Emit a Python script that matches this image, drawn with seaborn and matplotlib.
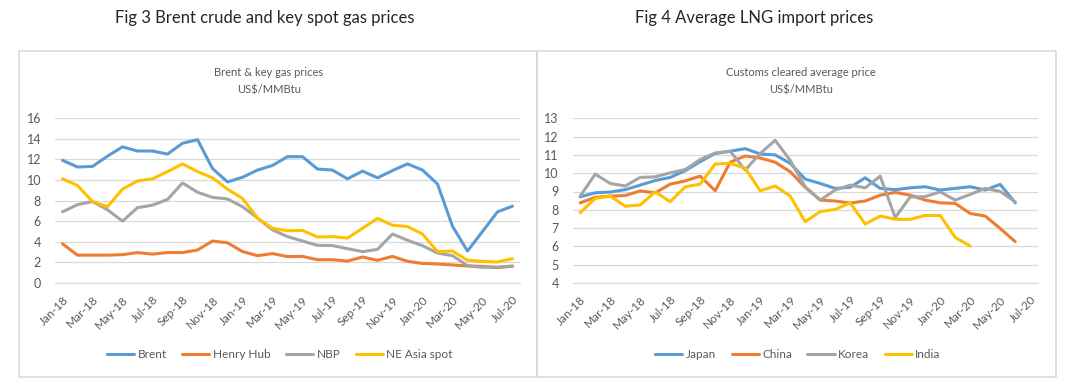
import seaborn as sns
import matplotlib.pyplot as plt
from matplotlib.patches import Rectangle
import pandas as pd
import numpy as np

sns.set_style("white")
plt.rcParams['font.family'] = ['Lato', 'DejaVu Sans']

# monthly labels Jan-18 .. Jul-20
months = list(pd.date_range("2018-01-01", periods=31, freq="MS").strftime("%b-%y"))

# Fig 3 - Brent & key gas prices (US$/MMBtu)
brent = [11.9, 11.25, 11.3, 12.3, 13.2, 12.8, 12.8, 12.5, 13.55, 13.9, 11.1, 9.8, 10.25, 10.95, 11.4,
         12.25, 12.25, 11.05, 10.95, 10.1, 10.85, 10.2, 10.9, 11.55, 10.95, 9.6, 5.5, 3.1, 5.0, 6.9, 7.45]
henry_hub = [3.8, 2.7, 2.7, 2.7, 2.75, 2.95, 2.8, 2.95, 2.95, 3.2, 4.07, 3.9, 3.05, 2.65, 2.85,
             2.56, 2.58, 2.26, 2.26, 2.13, 2.52, 2.2, 2.58, 2.1, 1.9, 1.84, 1.75, 1.65, 1.62, 1.49, 1.62]
nbp = [6.9, 7.6, 7.9, 7.1, 6.0, 7.3, 7.55, 8.1, 9.7, 8.8, 8.3, 8.15, 7.4, 6.3, 5.15,
       4.5, 4.07, 3.65, 3.63, 3.33, 3.04, 3.26, 4.75, 4.14, 3.62, 2.9, 2.65, 1.68, 1.52, 1.55, 1.65]
ne_asia = [10.1, 9.45, 7.9, 7.4, 9.1, 9.9, 10.1, 10.8, 11.55, 10.8, 10.2, 9.1, 8.2, 6.3, 5.3,
           5.07, 5.1, 4.46, 4.5, 4.36, 5.3, 6.27, 5.6, 5.47, 4.75, 3.04, 3.1, 2.2, 2.1, 2.04, 2.36]

# Fig 4 - customs cleared average LNG import price (US$/MMBtu)
japan = [8.71, 8.93, 8.97, 9.1, 9.35, 9.6, 9.77, 10.14, 10.63, 11.08, 11.2, 11.34, 11.05, 11.0, 10.54,
         9.68, 9.44, 9.17, 9.23, 9.75, 9.17, 9.1, 9.2, 9.26, 9.08, 9.17, 9.26, 9.08, 9.39, 8.38]
china = [8.38, 8.68, 8.75, 8.78, 9.03, 8.93, 9.4, 9.58, 9.84, 9.04, 10.6, 10.94, 10.83, 10.6, 10.08,
         9.23, 8.53, 8.48, 8.37, 8.48, 8.8, 8.95, 8.8, 8.53, 8.38, 8.35, 7.8, 7.66, 6.98, 6.26]
korea = [8.75, 9.95, 9.44, 9.3, 9.77, 9.8, 10.02, 10.2, 10.75, 11.1, 11.2, 10.17, 11.08, 11.8, 10.7,
         9.26, 8.53, 9.08, 9.35, 9.2, 9.84, 7.58, 8.7, 8.72, 8.98, 8.53, 8.84, 9.17, 9.0, 8.44]
india = [7.84, 8.62, 8.75, 8.2, 8.26, 8.98, 8.44, 9.26, 9.4, 10.5, 10.54, 10.27, 9.04, 9.3, 8.75,
         7.35, 7.9, 8.02, 8.38, 7.22, 7.66, 7.48, 7.48, 7.69, 7.69, 6.49, 6.02]

colors = ["#5B9BD5", "#ED7D31", "#A5A5A5", "#FFC000"]
TXT = "#595959"
GRID = "#D9D9D9"
W, H = 1074, 391


def long_frame(series):
    rows = []
    for name, vals in series.items():
        for i, v in enumerate(vals):
            rows.append({"idx": i, "value": v, "series": name})
    return pd.DataFrame(rows)


def box(x0, y0, x1, y1):
    # pixel box -> figure fraction [left, bottom, width, height]
    return [x0 / W, 1 - y1 / H, (x1 - x0) / W, (y1 - y0) / H]


fig = plt.figure(figsize=(W / 100, H / 100), dpi=100)

# chart frames
for x0, x1 in [(19, 537), (537, 1056)]:
    fig.patches.append(Rectangle((x0 / W, 1 - 377 / H), (x1 - x0) / W, (377 - 51) / H,
                                 transform=fig.transFigure, fill=False, edgecolor=GRID, lw=1.2))

fig.text(265 / W, 1 - 18 / H, "Fig 3 Brent crude and key spot gas prices", ha="center", va="center", fontsize=12)
fig.text(754 / W, 1 - 18 / H, "Fig 4 Average LNG import prices", ha="center", va="center", fontsize=12)

panels = [
    dict(pos=box(55, 118, 520, 283), data={"Brent": brent, "Henry Hub": henry_hub, "NBP": nbp, "NE Asia spot": ne_asia},
         ylim=(0, 16), yticks=np.arange(0, 17, 2), title="Brent & key gas prices\nUS$/MMBtu", cx=269, lx=280),
    dict(pos=box(572.7, 118.3, 1037.7, 283), data={"Japan": japan, "China": china, "Korea": korea, "India": india},
         ylim=(4, 13), yticks=np.arange(4, 14, 1), title="Customs cleared average price\nUS$/MMBtu", cx=801, lx=798),
]

for p in panels:
    ax = fig.add_axes(p["pos"])
    df = long_frame(p["data"])
    sns.lineplot(data=df, x="idx", y="value", hue="series", palette=colors, linewidth=2.2, ax=ax)
    ax.set_xlim(-0.5, 30.5)
    ax.set_ylim(*p["ylim"])
    ax.set_yticks(p["yticks"])
    ax.set_xticks(range(0, 31, 2))
    ax.set_xticklabels(months[::2], rotation=45, ha="right", rotation_mode="anchor")
    ax.set_xticks(np.arange(-0.5, 30, 2), minor=True)
    ax.tick_params(axis="x", which="major", length=0, pad=8, labelsize=8.5, labelcolor=TXT)
    ax.tick_params(axis="x", which="minor", length=5, color=GRID, width=1)
    ax.tick_params(axis="y", length=0, labelsize=9, labelcolor=TXT, pad=10)
    ax.grid(axis="y", color=GRID, lw=0.9)
    ax.set_axisbelow(True)
    for s in ["top", "right", "left"]:
        ax.spines[s].set_visible(False)
    ax.spines["bottom"].set_color(GRID)
    ax.set_xlabel("")
    ax.set_ylabel("")
    fig.text(p["cx"] / W, 1 - 81 / H, p["title"], ha="center", va="center", fontsize=8, color=TXT,
             linespacing=1.7)
    handles, labels = ax.get_legend_handles_labels()
    ax.get_legend().remove()
    leg = fig.legend(handles, labels, loc="center", bbox_to_anchor=(p["lx"] / W, 1 - 355 / H), ncol=4,
                     frameon=False, fontsize=8.5, handlelength=2.3, handletextpad=0.3, columnspacing=1.3)
    for t in leg.get_texts():
        t.set_color(TXT)

fig.savefig("out.png", dpi=100)
plt.close()
